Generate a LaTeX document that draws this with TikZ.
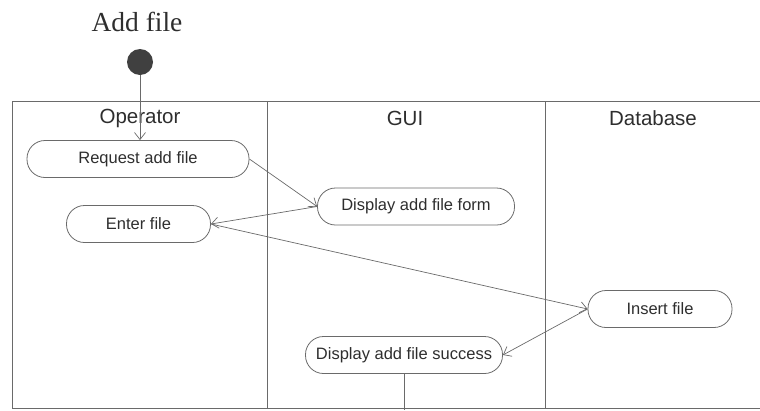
\documentclass[tikz,border=0pt]{standalone}
\usepackage{fontspec}
\setmainfont{Liberation Sans}
\newfontfamily\titlefont{Liberation Serif}
\usetikzlibrary{arrows.meta}
\definecolor{ink}{HTML}{2E2E2E}
\definecolor{dot}{HTML}{404040}
\definecolor{rule}{HTML}{6A6A6A}
\begin{document}
\begin{tikzpicture}[x=1pt,y=-1pt,
  act/.style={draw=rule,line width=0.8pt,rectangle,rounded corners=18pt,
    minimum height=37pt,inner sep=0pt,text=ink,font=\fontsize{16.5}{18}\selectfont},
  lane/.style={text=ink,font=\fontsize{20.5}{22}\selectfont},
  flow/.style={draw=rule,line width=0.7pt,-{Straight Barb[length=7pt,width=11pt]}},
  border/.style={draw=rule,line width=0.8pt}]
\useasboundingbox (0,0) rectangle (760,410);
\node[font=\titlefont\fontsize{27.5}{30}\selectfont,text=ink] (title) at (137,22) {Add file};
\node[circle,fill=dot,minimum size=26pt,inner sep=0pt] (start) at (140,62) {};
% swimlanes
\draw[border] (760,101) -- (12,101) -- (12,408) -- (760,408);
\draw[border] (267,101) -- (267,408);
\draw[border] (545,101) -- (545,408);
\node[lane] (op) at (140,118) {Operator};
\node[lane] (gui) at (405,118) {GUI};
\node[lane] (db) at (653,118) {Database};
% activities
\node[act,minimum width=222pt] (req) at (138,159) {Request add file};
\node[act,minimum width=197pt] (form) at (416,206.5) {Display add file form};
\node[act,minimum width=144pt] (enter) at (138.5,224) {Enter file};
\node[act,minimum width=144pt] (insert) at (660,309) {Insert file};
\node[act,minimum width=197pt] (succ) at (404,355) {Display add file success};
\coordinate (end) at (404,410);
% flows
\draw[flow] (start) -- (req.north -| start);
\draw[flow] (req.east) -- (form.west);
\draw[flow] (form.west) -- (enter.east);
\draw[flow] (enter.east) -- (insert.west);
\draw[flow] (insert.west) -- (succ.east);
\draw[draw=rule,line width=0.7pt] (succ.south) -- (end);
\end{tikzpicture}
\end{document}
